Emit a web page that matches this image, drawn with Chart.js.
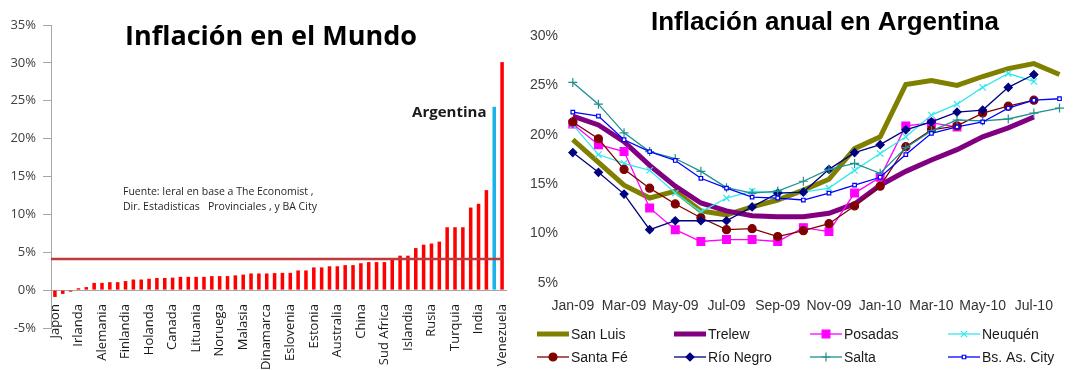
<!DOCTYPE html>
<html>
<head>
<meta charset="utf-8">
<script src="https://cdn.jsdelivr.net/npm/chart.js@4.4.1/dist/chart.umd.min.js"></script>
<style>
  html, body { margin: 0; padding: 0; background: #fff; }
  #wrap { position: relative; width: 1079px; height: 370px; overflow: hidden; background: #fff; }
  #mundo { position: absolute; left: 0; top: 0; }
  #arg { position: absolute; left: 520px; top: 0; }
</style>
</head>
<body>
<div id="wrap">
  <canvas id="mundo" width="520" height="370"></canvas>
  <canvas id="arg" width="559" height="370"></canvas>
</div>
<script>
// ---------- Inflación en el Mundo ----------
const paises = [
  'Japon', '', '', 'Irlanda', '', '', 'Alemania', '', '', 'Finlandia', '', '',
  'Holanda', '', '', 'Canada', '', '', 'Lituania', '', '', 'Noruega', '', '',
  'Malasia', '', '', 'Dinamarca', '', '', 'Eslovenia', '', '', 'Estonia', '', '',
  'Australia', '', '', 'China', '', '', 'Sud Africa', '', '', 'Islandia', '', '',
  'Rusia', '', '', 'Turquia', '', '', 'India', '', 'Argentina', 'Venezuela'
];
const inflacionMundo = [
  -0.9, -0.5, -0.2, 0.25, 0.4, 0.95, 0.95, 1.05, 1.05, 1.2, 1.4, 1.4,
  1.5, 1.6, 1.6, 1.65, 1.75, 1.75, 1.75, 1.75, 1.85, 1.85, 1.85, 1.95,
  2.05, 2.2, 2.2, 2.2, 2.25, 2.28, 2.28, 2.6, 2.6, 3.0, 3.0, 3.15,
  3.15, 3.3, 3.3, 3.55, 3.7, 3.7, 3.7, 4.0, 4.55, 4.55, 5.55, 6.0,
  6.15, 6.4, 8.3, 8.3, 8.3, 10.9, 11.4, 13.2, 24.2, 30.1
];
const nivelReferencia = 4.1;
const ticksMundo = [-5, 0, 5, 10, 15, 20, 25, 30, 35];
const destacado = 'Argentina';

const rojo = '#ff0000';
const celeste = '#1cb2ea';
const grisEje = '#a6a6a6';

const anotacionesMundo = {
  id: 'anotacionesMundo',
  afterDatasetsDraw(chart) {
    const { ctx, scales: { x, y } } = chart;
    // línea de referencia
    const yRef = y.getPixelForValue(nivelReferencia);
    ctx.save();
    ctx.strokeStyle = '#c0393b';
    ctx.lineWidth = 2.5;
    ctx.beginPath();
    ctx.moveTo(x.left, yRef);
    ctx.lineTo(x.getPixelForValue(paises.length - 1), yRef);
    ctx.stroke();

    // etiqueta de la barra destacada
    const idx = paises.indexOf(destacado);
    const bar = chart.getDatasetMeta(0).data[idx];
    ctx.fillStyle = '#1a1a1a';
    ctx.font = 'bold 15px "Open Sans"';
    ctx.textAlign = 'right';
    ctx.textBaseline = 'middle';
    ctx.fillText(destacado, bar.x - bar.width / 2 - 6, bar.y + 6);

    // título
    ctx.font = 'bold 27px "Open Sans"';
    ctx.textAlign = 'center';
    ctx.textBaseline = 'alphabetic';
    ctx.fillStyle = '#000';
    ctx.fillText('Inflación en el Mundo', 271, 45);

    // fuente
    ctx.font = '10.5px "Open Sans"';
    ctx.textAlign = 'left';
    ctx.fillStyle = '#262626';
    ctx.fillText('Fuente: Ieral en base a The Economist ,', 123, 195);
    ctx.fillText('Dir. Estadisticas   Provinciales , y BA City', 123, 210);
    ctx.restore();
  }
};

new Chart(document.getElementById('mundo'), {
  type: 'bar',
  data: {
    labels: paises,
    datasets: [{
      data: inflacionMundo,
      backgroundColor: paises.map(p => p === destacado ? celeste : rojo),
      borderWidth: 0,
      barPercentage: 0.45,
      categoryPercentage: 1
    }]
  },
  options: {
    responsive: false,
    animation: false,
    devicePixelRatio: 1,
    layout: { padding: { left: 0, right: 14, top: 25, bottom: 42 } },
    plugins: { legend: { display: false }, tooltip: { enabled: false } },
    scales: {
      x: {
        position: { y: 0 },
        grid: { display: false, drawTicks: false },
        border: { display: true, color: grisEje, width: 1 },
        ticks: {
          autoSkip: false,
          minRotation: 90,
          maxRotation: 90,
          padding: 14,
          color: '#1a1a1a',
          font: { family: 'Open Sans', size: 13 },
          callback: (v, i) => (i % 3 === 0 ? paises[i] : '')
        },
        afterFit: s => { s.paddingLeft = 0; s.paddingRight = 0; }
      },
      y: {
        min: ticksMundo[0],
        max: ticksMundo[ticksMundo.length - 1],
        afterBuildTicks: s => { s.ticks = ticksMundo.map(v => ({ value: v })); },
        grid: { drawOnChartArea: false, drawTicks: true, tickLength: 8, color: grisEje },
        border: { display: true, color: grisEje, width: 1 },
        ticks: {
          padding: 7,
          color: '#404040',
          font: { family: 'Open Sans', size: 13 },
          callback: v => v + '%'
        },
        afterFit: s => { s.width = 51; }
      }
    }
  },
  plugins: [anotacionesMundo]
});

// ---------- Inflación anual en Argentina ----------
const meses = [
  'Jan-09', 'Feb-09', 'Mar-09', 'Apr-09', 'May-09', 'Jun-09', 'Jul-09', 'Aug-09', 'Sep-09', 'Oct-09',
  'Nov-09', 'Dec-09', 'Jan-10', 'Feb-10', 'Mar-10', 'Apr-10', 'May-10', 'Jun-10', 'Jul-10', 'Aug-10'
];
const ticksArg = [5, 10, 15, 20, 25, 30];

const sanLuis  = [19.5, 17.2, 14.9, 13.6, 14.3, 12.3, 11.9, 12.7, 13.4, 14.4, 15.5, 18.6, 19.8, 25.1, 25.5, 25.0, 25.9, 26.7, 27.2, 26.1];
const trelew   = [21.9, 21.0, 19.3, 16.9, 14.8, 13.1, 12.3, 11.8, 11.7, 11.7, 12.05, 13.0, 14.9, 16.3, 17.45, 18.5, 19.8, 20.7, 21.8, null];
const posadas  = [21.1, 19.0, 18.3, 12.6, 10.4, 9.2, 9.4, 9.4, 9.2, 10.6, 10.2, 14.1, 15.7, 20.9, 21.2, 20.8, null, null, null, null];
const neuquen  = [21.0, 18.0, 17.1, 16.4, 14.1, 12.2, 13.6, 14.3, 14.1, 14.2, 14.6, 16.4, 18.1, 19.8, 22.0, 23.1, 24.8, 26.2, 25.4, null];
const santaFe  = [21.3, 19.6, 16.5, 14.6, 13.0, 11.6, 10.4, 10.5, 9.7, 10.3, 11.0, 12.8, 14.8, 18.8, 20.5, 20.9, 22.2, 22.9, 23.5, null];
const rioNegro = [18.2, 16.2, 14.0, 10.4, 11.3, 11.3, 11.3, 12.7, 14.1, 14.2, 16.5, 18.2, 19.0, 20.5, 21.3, 22.3, 22.5, 24.8, 26.1, null];
const salta    = [25.3, 23.1, 20.2, 18.3, 17.6, 16.3, 14.65, 14.1, 14.3, 15.3, 16.5, 17.1, 16.1, 18.7, 20.4, 21.5, 21.4, 21.6, 22.2, 22.7];
const bsAs     = [22.3, 21.9, 19.5, 18.3, 17.4, 15.6, 14.6, 13.7, 13.6, 13.4, 14.1, 14.9, 15.7, 18.0, 20.15, 20.8, 21.3, 22.7, 23.5, 23.65];

function serie(label, data, color, width, pointStyle, radius, fill) {
  return {
    label, data,
    borderColor: color,
    backgroundColor: fill || color,
    borderWidth: width,
    pointStyle: pointStyle || 'circle',
    pointRadius: radius,
    pointBorderWidth: 1.2,
    pointBorderColor: color,
    pointBackgroundColor: fill || color,
    tension: 0,
    spanGaps: false
  };
}

const datasetsArg = [
  serie('San Luis',     sanLuis,  '#808000', 5,   false,      0),
  serie('Trelew',       trelew,   '#800080', 5,   false,      0),
  serie('Posadas',      posadas,  '#ff00ff', 1.3, 'rect',     5.5),
  serie('Neuquén',      neuquen,  '#33e8ef', 1.3, 'crossRot', 4.5),
  serie('Santa Fé',     santaFe,  '#800000', 1.3, 'circle',   4),
  serie('Río Negro',    rioNegro, '#000080', 1.3, 'rectRot',  4),
  serie('Salta',        salta,    '#1f8f8f', 1.3, 'cross',    4.5),
  serie('Bs. As. City', bsAs,     '#0000ff', 1.3, 'rect',     2.5, '#ffffff')
];
// first series at the bottom, last on top
datasetsArg.forEach((d, i) => { d.order = datasetsArg.length - i; });

const leyendaArg = {
  id: 'leyendaArg',
  afterDraw(chart) {
    const { ctx } = chart;
    const cols = [17, 154, 290, 428];
    const rows = [334, 357];
    ctx.save();
    ctx.font = '14px "Liberation Sans"';
    ctx.textBaseline = 'middle';
    ctx.textAlign = 'left';
    chart.data.datasets.forEach((d, i) => {
      const x0 = cols[i % 4];
      const y0 = rows[Math.floor(i / 4)];
      ctx.strokeStyle = d.borderColor;
      ctx.lineWidth = d.borderWidth;
      ctx.lineCap = 'butt';
      ctx.beginPath();
      ctx.moveTo(x0, y0);
      ctx.lineTo(x0 + 32, y0);
      ctx.stroke();
      if (d.pointRadius > 0) {
        ctx.fillStyle = d.pointBackgroundColor;
        ctx.strokeStyle = d.pointBorderColor;
        ctx.lineWidth = d.pointBorderWidth;
        Chart.helpers.drawPoint(ctx, {
          pointStyle: d.pointStyle,
          radius: d.pointRadius,
          borderWidth: d.pointBorderWidth,
          rotation: 0
        }, x0 + 16, y0);
      }
      ctx.fillStyle = '#1a1a1a';
      ctx.fillText(d.label, x0 + 34, y0 + 1);
    });

    ctx.font = 'bold 26px "Liberation Sans"';
    ctx.textAlign = 'center';
    ctx.textBaseline = 'alphabetic';
    ctx.fillStyle = '#000';
    ctx.fillText('Inflación anual en Argentina', 305, 30);
    ctx.restore();
  }
};

new Chart(document.getElementById('arg'), {
  type: 'line',
  data: { labels: meses, datasets: datasetsArg },
  options: {
    responsive: false,
    animation: false,
    devicePixelRatio: 1,
    layout: { padding: { left: 0, right: 5, top: 36, bottom: 52 } },
    plugins: { legend: { display: false }, tooltip: { enabled: false } },
    scales: {
      x: {
        offset: true,
        grid: { display: false, drawTicks: false },
        border: { display: false },
        ticks: {
          autoSkip: false,
          minRotation: 0,
          maxRotation: 0,
          padding: 15,
          color: '#333',
          font: { family: 'Liberation Sans', size: 14 },
          callback: (v, i) => (i % 2 === 0 ? meses[i] : '')
        },
        afterFit: s => { s.height = 35; }
      },
      y: {
        min: ticksArg[0],
        max: ticksArg[ticksArg.length - 1],
        afterBuildTicks: s => { s.ticks = ticksArg.map(v => ({ value: v })); },
        grid: { display: false, drawTicks: false },
        border: { display: false },
        ticks: {
          padding: 2,
          color: '#404040',
          font: { family: 'Liberation Sans', size: 14 },
          callback: v => v + '%'
        },
        afterFit: s => { s.width = 40; }
      }
    }
  },
  plugins: [leyendaArg]
});
</script>
</body>
</html>
